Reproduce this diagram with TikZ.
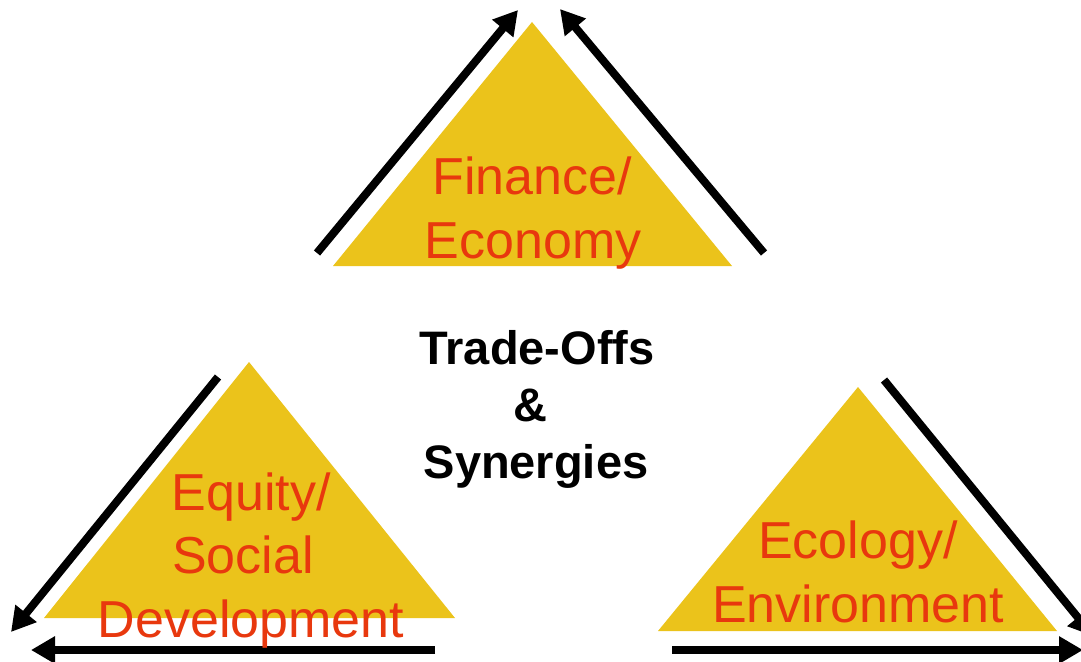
\documentclass[tikz,border=0pt]{standalone}
\usepackage{fontspec}
\setmainfont{Liberation Sans}
\usetikzlibrary{arrows.meta}
\definecolor{tri}{RGB}{235,195,27}
\definecolor{lbl}{RGB}{232,56,14}
\tikzset{
  tribox/.style={fill=tri, draw=none},
  bigarrow/.style={line width=8pt, -{Triangle[length=24pt,width=26pt]}},
  lblline/.style={text=lbl, anchor=base, inner sep=0pt, font=\fontsize{52}{64}\selectfont},
  midline/.style={text=black, anchor=base, inner sep=0pt, font=\fontsize{47}{56}\selectfont\bfseries},
}
\begin{document}
\begin{tikzpicture}[x=1pt,y=-1pt]
\useasboundingbox (0,0) rectangle (1081,661);
\clip (0,0) rectangle (1081,661);
% triangles
\coordinate (tA) at (532,22);  \coordinate (tL) at (333,266); \coordinate (tR) at (732,266);
\coordinate (lA) at (249,362); \coordinate (lL) at (44,618);  \coordinate (lR) at (455,618);
\coordinate (rA) at (858,387); \coordinate (rL) at (658,631); \coordinate (rR) at (1057,631);
\fill[tribox] (tA) -- (tL) -- (tR) -- cycle;
\fill[tribox] (lA) -- (lL) -- (lR) -- cycle;
\fill[tribox] (rA) -- (rL) -- (rR) -- cycle;
% arrow ends
\coordinate (a1s) at (317,253); \coordinate (a1e) at (518,10);
\coordinate (a2s) at (764,253); \coordinate (a2e) at (560,9);
\coordinate (a3s) at (218,377); \coordinate (a3e) at (11,632);
\coordinate (a4s) at (435,650); \coordinate (a4e) at (31,650);
\coordinate (a5s) at (884,380); \coordinate (a5e) at (1093,636);
\coordinate (a6s) at (672,650); \coordinate (a6e) at (1083,650);
\draw[bigarrow] (a1s) -- (a1e);
\draw[bigarrow] (a2s) -- (a2e);
\draw[bigarrow] (a3s) -- (a3e);
\draw[bigarrow] (a4s) -- (a4e);
\draw[bigarrow] (a5s) -- (a5e);
\draw[bigarrow] (a6s) -- (a6e);
% labels
\node[lblline] (fin1) at (532,194) {Finance/};
\node[lblline] (fin2) at (533,258) {Economy};
\node[lblline] (eq1) at (251,510) {Equity/};
\node[lblline] (eq2) at (243,573) {Social};
\node[lblline] (eq3) at (251,637) {Development};
\node[lblline] (ec1) at (858,558) {Ecology/};
\node[lblline] (ec2) at (858,622) {Environment};
\node[midline] (m1) at (537,364) {Trade-Offs};
\node[midline] (m2) at (530,421) {\&};
\node[midline] (m3) at (536,478) {Synergies};
\end{tikzpicture}
\end{document}
